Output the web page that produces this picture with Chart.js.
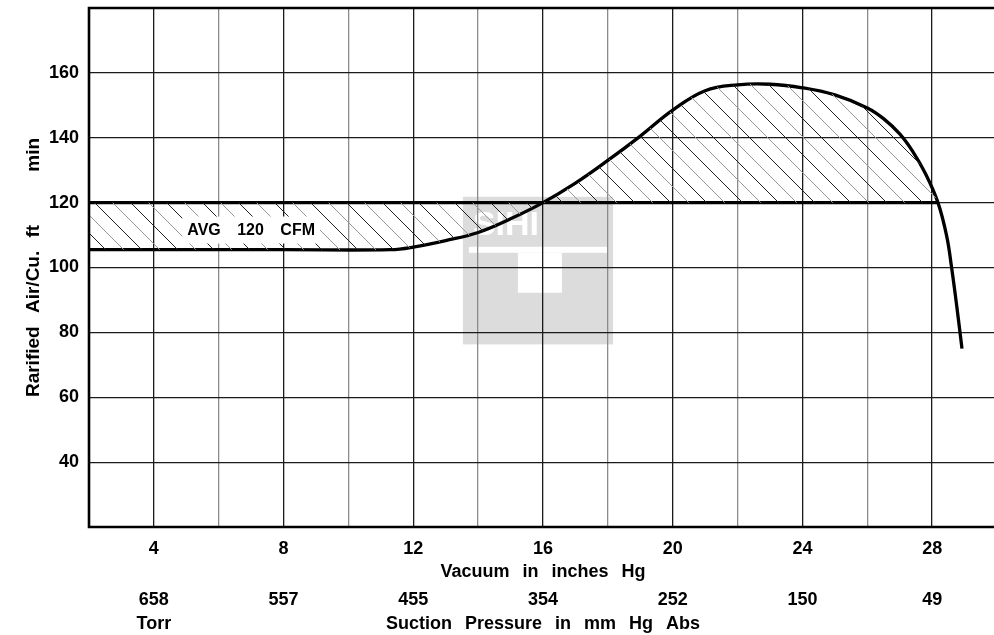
<!DOCTYPE html>
<html>
<head>
<meta charset="utf-8">
<script src="https://cdn.jsdelivr.net/npm/chart.js@4.4.1/dist/chart.umd.min.js"></script>
<style>
  html, body { margin: 0; padding: 0; background: #fff; overflow: hidden; }
  #wrap { width: 997px; height: 635px; }
</style>
</head>
<body>
<div id="wrap"><canvas id="chart"></canvas></div>
<script>
// curve: vacuum (in Hg) -> rarified air (cfm)
const vacuumIn = [2, 4, 8, 11.3, 12, 13, 14, 15, 16, 17, 18, 19, 20, 21, 22, 23, 24, 25, 26, 26.5, 27, 27.4, 27.8, 28.18, 28.45, 28.6, 28.76, 28.92];
const airflowCfm = [105.5, 105.5, 105.5, 105.5, 106.3, 108.3, 110.8, 115, 120, 126, 133, 140.5, 148.5, 154.5, 156.3, 156.5, 155.4, 153.2, 149.2, 145.9, 141.2, 135.8, 128.8, 120, 109.6, 100, 88, 75];

// average line
const avgCfm = 120;
const avgFrom = 2;
const avgTo = 28.18;

// tick labels
const vacuumTicks = [4, 8, 12, 16, 20, 24, 28];
const torrTicks = ['658', '557', '455', '354', '252', '150', '49'];

const FONT = '"Liberation Sans", Arial, sans-serif';
Chart.defaults.font.family = FONT;
Chart.defaults.color = '#000';

const curvePts = vacuumIn.map((x, i) => ({ x, y: airflowCfm[i] }));
const hatchPts = curvePts.filter(p => p.x <= avgTo);
const avgPts = [{ x: avgFrom, y: avgCfm }, { x: avgTo, y: avgCfm }];

// diagonal hatch, alternating dark / light strokes
function makeHatch() {
	const s = 36;
	const c = document.createElement('canvas');
	c.width = s; c.height = s;
	const g = c.getContext('2d');
	g.lineWidth = 1;
	[[0, '#222'], [s / 2, '#999']].forEach(([o, col]) => {
		g.strokeStyle = col;
		for (let k = -1; k <= 1; k++) {
			g.beginPath();
			g.moveTo(k * s + o - 2, -2);
			g.lineTo(k * s + o + s + 2, s + 2);
			g.stroke();
		}
	});
	return g.createPattern(c, 'repeat');
}

// no extra room for edge tick labels
function noEdgePad(s) {
	s.paddingTop = 0; s.paddingBottom = 0;
	s.paddingLeft = 0; s.paddingRight = 0;
}

const decor = {
	id: 'decor',
	beforeDraw(chart) {
		const { ctx, scales: { x, y } } = chart;
		ctx.wordSpacing = '8px';
		// faint logo watermark
		const l = x.getPixelForValue(13.53), r = x.getPixelForValue(18.16);
		const t = y.getPixelForValue(121.8), b = y.getPixelForValue(76.3);
		ctx.save();
		ctx.fillStyle = '#dcdcdc';
		ctx.fillRect(l, t, r - l, b - t);
		ctx.fillStyle = '#fff';
		ctx.font = 'bold 34px ' + FONT;
		ctx.textBaseline = 'top';
		ctx.wordSpacing = '0px';
		ctx.fillText('SIHI', l + 10, t + 12);
		ctx.fillRect(l + 6, t + 50, r - l - 12, 6);
		ctx.fillRect(l + 55, t + 56, 44, 40);
		ctx.restore();
	},
	afterDatasetsDraw(chart) {
		const { ctx, chartArea: a, scales: { x, y, x2 } } = chart;
		ctx.save();
		// AVG label on white
		const cx = x.getPixelForValue(7.0), cy = y.getPixelForValue(111.7);
		ctx.font = 'bold 16px ' + FONT;
		ctx.wordSpacing = '12px';
		ctx.textAlign = 'center';
		ctx.textBaseline = 'middle';
		const w = ctx.measureText('AVG 120 CFM').width;
		ctx.fillStyle = '#fff';
		ctx.fillRect(cx - w / 2 - 5, cy - 13, w + 10, 27);
		ctx.fillStyle = '#000';
		ctx.fillText('AVG 120 CFM', cx, cy + 1);
		// Torr under the first pressure value
		ctx.font = 'bold 18px ' + FONT;
		ctx.wordSpacing = '8px';
		ctx.fillText('Torr', x.getPixelForValue(4), x2.bottom - 10.8);
		// frame
		ctx.strokeStyle = '#000';
		ctx.lineWidth = 2.6;
		ctx.beginPath();
		ctx.moveTo(a.right + 2, a.top);
		ctx.lineTo(a.left, a.top);
		ctx.lineTo(a.left, a.bottom);
		ctx.lineTo(a.right + 2, a.bottom);
		ctx.stroke();
		ctx.restore();
	}
};

const tickFont = { size: 18, weight: 'bold' };

new Chart(document.getElementById('chart'), {
	type: 'line',
	data: {
		datasets: [
			{
				data: hatchPts,
				borderWidth: 0,
				pointRadius: 0,
				tension: 0.4,
				fill: { value: avgCfm },
				backgroundColor: makeHatch()
			},
			{
				data: curvePts,
				borderColor: '#000',
				borderWidth: 3.3,
				pointRadius: 0,
				tension: 0.4,
				fill: false
			},
			{
				data: avgPts,
				borderColor: '#000',
				borderWidth: 3.3,
				pointRadius: 0,
				fill: false
			}
		]
	},
	options: {
		responsive: true,
		maintainAspectRatio: false,
		animation: false,
		devicePixelRatio: 1,
		layout: { padding: { top: 8, left: 0, right: 0, bottom: 0 } },
		plugins: { legend: { display: false }, tooltip: { enabled: false } },
		scales: {
			x: {
				type: 'linear', position: 'bottom', min: 2, max: 30,
				ticks: {
					stepSize: 2, autoSkip: false, maxRotation: 0, padding: 11, font: tickFont,
					callback: v => vacuumTicks.includes(v) ? String(v) : ''
				},
				grid: {
					drawTicks: false,
					lineWidth: 1.3,
					color: c => (c.tick && c.tick.value % 4 === 0) ? '#1a1a1a' : '#8c8c8c'
				},
				border: { display: false },
				title: { display: true, text: 'Vacuum in inches Hg', font: tickFont, padding: { top: 0, bottom: 2 } },
				afterFit: s => { s.height = 58; noEdgePad(s); }
			},
			x2: {
				type: 'linear', position: 'bottom', min: 2, max: 30,
				ticks: {
					stepSize: 2, autoSkip: false, maxRotation: 0, padding: 4, font: tickFont,
					callback: v => {
						const i = vacuumTicks.indexOf(v);
						return i >= 0 ? torrTicks[i] : '';
					}
				},
				grid: { display: false, drawTicks: false },
				border: { display: false },
				title: { display: true, text: 'Suction Pressure in mm Hg Abs', font: tickFont, padding: { top: 0, bottom: 0 } },
				afterFit: s => { s.height = 50; noEdgePad(s); }
			},
			y: {
				min: 20, max: 180,
				ticks: {
					stepSize: 20, padding: 10, font: tickFont,
					callback: v => (v > 20 && v < 180) ? String(v) : ''
				},
				grid: { drawTicks: false, lineWidth: 1.2, color: '#1a1a1a' },
				border: { display: false },
				title: { display: true, text: 'Rarified Air/Cu. ft    min', font: { size: 19, weight: 'bold' }, padding: { top: 22, bottom: 0 } },
				afterFit: s => { s.width = 89; noEdgePad(s); }
			}
		}
	},
	plugins: [decor]
});
</script>
</body>
</html>
